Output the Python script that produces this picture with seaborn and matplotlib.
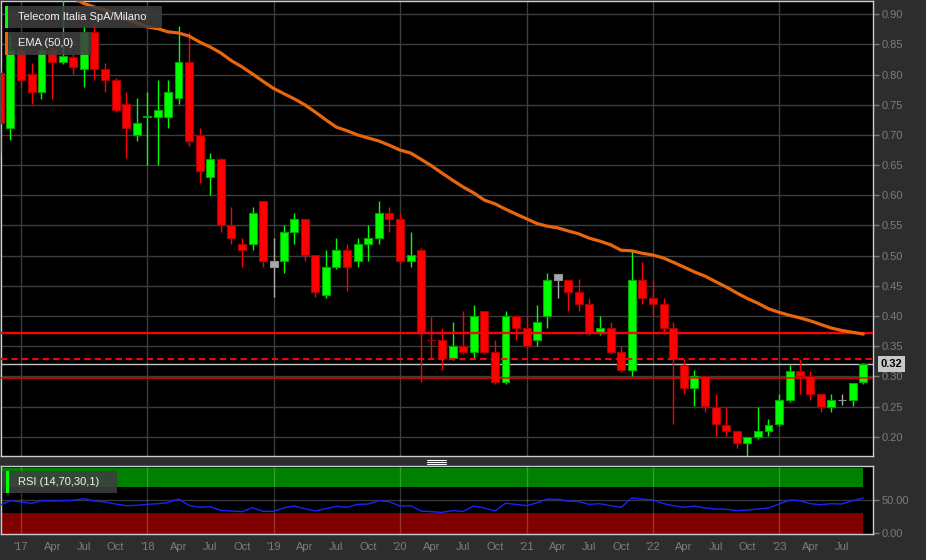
import numpy as np
import pandas as pd
import matplotlib
matplotlib.use("Agg")
import matplotlib.pyplot as plt
import matplotlib.dates as mdates
from matplotlib.patches import Rectangle
from matplotlib.lines import Line2D
import seaborn as sns

# Monthly candles, Nov 2016 .. Sep 2023
months = pd.date_range("2016-11-01", "2023-09-01", freq="MS")

opens = [0.803, 0.711, 0.841, 0.801, 0.771, 0.841, 0.821, 0.830, 0.810, 0.870,
         0.810, 0.791, 0.751, 0.700, 0.7295, 0.730, 0.730, 0.761, 0.821, 0.700,
         0.631, 0.660, 0.550, 0.520, 0.520, 0.590, 0.481, 0.491, 0.540, 0.560,
         0.501, 0.435, 0.481, 0.510, 0.491, 0.520, 0.530, 0.570, 0.560, 0.491,
         0.510, 0.3605, 0.360, 0.330, 0.350, 0.340, 0.409, 0.340, 0.290, 0.400,
         0.380, 0.360, 0.400, 0.470, 0.460, 0.440, 0.420, 0.372, 0.380, 0.340,
         0.311, 0.460, 0.430, 0.420, 0.380, 0.319, 0.281, 0.300, 0.250, 0.220,
         0.210, 0.190, 0.200, 0.210, 0.221, 0.260, 0.309, 0.300, 0.270, 0.250,
         0.260, 0.260, 0.291]
highs = [0.815, 0.868, 0.850, 0.820, 0.846, 0.846, 0.930, 0.835, 0.880, 0.886,
         0.820, 0.795, 0.771, 0.761, 0.771, 0.791, 0.791, 0.881, 0.870, 0.711,
         0.670, 0.662, 0.580, 0.530, 0.580, 0.591, 0.530, 0.550, 0.570, 0.560,
         0.501, 0.510, 0.530, 0.520, 0.530, 0.550, 0.590, 0.580, 0.570, 0.540,
         0.512, 0.399, 0.380, 0.390, 0.409, 0.419, 0.409, 0.360, 0.409, 0.400,
         0.400, 0.419, 0.471, 0.470, 0.460, 0.461, 0.430, 0.400, 0.390, 0.350,
         0.510, 0.490, 0.460, 0.430, 0.390, 0.329, 0.310, 0.300, 0.271, 0.250,
         0.210, 0.200, 0.250, 0.230, 0.270, 0.319, 0.329, 0.309, 0.270, 0.270,
         0.270, 0.289, 0.322]
lows = [0.670, 0.692, 0.780, 0.751, 0.760, 0.760, 0.818, 0.801, 0.780, 0.791,
        0.771, 0.738, 0.662, 0.690, 0.650, 0.650, 0.711, 0.751, 0.681, 0.620,
        0.600, 0.540, 0.520, 0.481, 0.510, 0.481, 0.431, 0.471, 0.520, 0.491,
        0.431, 0.430, 0.478, 0.441, 0.481, 0.491, 0.520, 0.540, 0.488, 0.481,
        0.291, 0.330, 0.311, 0.327, 0.337, 0.330, 0.337, 0.287, 0.287, 0.360,
        0.347, 0.350, 0.380, 0.430, 0.409, 0.409, 0.369, 0.369, 0.337, 0.308,
        0.300, 0.420, 0.400, 0.370, 0.221, 0.271, 0.251, 0.241, 0.201, 0.201,
        0.181, 0.168, 0.197, 0.201, 0.218, 0.257, 0.270, 0.261, 0.241, 0.241,
        0.252, 0.251, 0.288]
closes = [0.720, 0.841, 0.791, 0.771, 0.841, 0.821, 0.831, 0.812, 0.870, 0.810,
          0.791, 0.741, 0.711, 0.720, 0.7305, 0.741, 0.771, 0.821, 0.690, 0.641,
          0.660, 0.551, 0.530, 0.510, 0.570, 0.491, 0.491, 0.540, 0.560, 0.501,
          0.440, 0.481, 0.510, 0.481, 0.520, 0.530, 0.570, 0.560, 0.491, 0.501,
          0.372, 0.3595, 0.330, 0.350, 0.340, 0.400, 0.340, 0.290, 0.400, 0.380,
          0.350, 0.390, 0.460, 0.460, 0.440, 0.420, 0.372, 0.380, 0.340, 0.311,
          0.460, 0.430, 0.420, 0.380, 0.329, 0.281, 0.300, 0.251, 0.221, 0.210,
          0.190, 0.200, 0.210, 0.220, 0.260, 0.309, 0.300, 0.270, 0.250, 0.260,
          0.260, 0.289, 0.320]

# EMA(50), starting Apr 2017
ema_start = 7
ema_vals = [0.927, 0.918, 0.912, 0.907, 0.900, 0.892, 0.886, 0.879, 0.876, 0.871,
            0.869, 0.864, 0.854, 0.846, 0.836, 0.823, 0.813, 0.801, 0.789, 0.777,
            0.768, 0.760, 0.750, 0.738, 0.725, 0.713, 0.707, 0.700, 0.695, 0.690,
            0.683, 0.675, 0.670, 0.660, 0.649, 0.637, 0.625, 0.614, 0.604, 0.592,
            0.586, 0.577, 0.569, 0.561, 0.553, 0.549, 0.546, 0.541, 0.536, 0.529,
            0.524, 0.518, 0.509, 0.508, 0.504, 0.501, 0.496, 0.489, 0.481, 0.473,
            0.466, 0.457, 0.448, 0.438, 0.429, 0.421, 0.412, 0.406, 0.401, 0.397,
            0.392, 0.386, 0.380, 0.376, 0.373, 0.370]

rsi_vals = [42.5, 49, 47, 45, 49, 48.5, 49, 49.5, 52, 48.5,
            47, 44, 41.5, 42, 43.5, 44.5, 46, 51.5, 42, 39,
            40, 34.5, 33.5, 32.5, 38.5, 33, 33, 38.5, 41, 37,
            33.5, 37, 40.5, 39, 43.5, 44, 49, 47.5, 41, 41.5,
            33.5, 32.5, 31.5, 34, 33, 41, 38, 33.5, 45, 43.5,
            41.5, 46, 51.5, 51, 48.5, 47.5, 43.5, 44.5, 41.5, 39,
            53, 51.5, 50, 44.5, 41.5, 39, 41, 38, 36.5, 36,
            34, 35, 36.5, 38, 44, 50, 49, 44.5, 43, 44.5,
            44, 49, 53]

resistance = 0.372
pivot = 0.329
support = 0.297
last_price = 0.32

tick_dates = pd.date_range("2017-01-01", "2023-07-01", freq="QS")
tick_labels = ["'17", "Apr", "Jul", "Oct", "'18", "Apr", "Jul", "Oct",
               "'19", "Apr", "Jul", "Oct", "'20", "Apr", "Jul", "Oct",
               "'21", "Apr", "Jul", "Oct", "'22", "Apr", "Jul", "Oct",
               "'23", "Apr", "Jul"]
year_dates = pd.date_range("2017-01-01", "2023-01-01", freq="YS")

W, H = 926, 560
BG = "#2d2d2d"
GRID = "#3d3d3d"
TXT = "#7c7c7c"
BORDER = "#c8ccd8"

sns.set_theme(style="dark")
plt.rcParams["font.family"] = ["Liberation Sans", "DejaVu Sans"]

fig = plt.figure(figsize=(W / 100, H / 100), dpi=100, facecolor=BG)
ax = fig.add_axes([1 / W, 1 - 456 / H, 872 / W, 455 / H])
ax2 = fig.add_axes([1 / W, 1 - 534 / H, 872 / W, 68 / H])

x = mdates.date2num(months)
o = np.array(opens); hi = np.array(highs); lo = np.array(lows); c = np.array(closes)
prev = np.r_[o[0], c[:-1]]
fill = np.where(np.isclose(c, prev), "#a8a8a8", np.where(c > prev, "#00ff00", "#ff0000"))
edge = np.where(np.isclose(c, prev), "#909090", np.where(c > prev, "#00a800", "#b00000"))

# main panel
ax.set_facecolor("black")
ax.vlines(x, lo, hi, colors=fill, linewidth=1.0, zorder=3)
body_bottom = np.minimum(o, c)
body_h = np.maximum(np.abs(c - o), 0.0015)
ax.bar(x, body_h, bottom=body_bottom, width=23, color=fill, edgecolor=edge,
       linewidth=0.8, zorder=4)

ax.axhline(last_price, color="#c4c4c4", linewidth=1.0, zorder=2)
ax.axhline(resistance, color="#ff0000", linewidth=1.7, zorder=6)
ax.axhline(pivot, color="#ff0000", linewidth=1.5, dashes=(3, 2), zorder=6)
ax.axhline(support, color="#ff0000", linewidth=1.1, zorder=6)

sns.lineplot(x=x[ema_start:], y=ema_vals, ax=ax, color="#e8660c", linewidth=2.3,
             zorder=7, legend=False)

xlim = (mdates.date2num(pd.Timestamp("2016-11-04")), mdates.date2num(pd.Timestamp("2023-09-29")))
ax.set_xlim(xlim)
ax.set_ylim(0.168, 0.922)
ax.set_xticks(mdates.date2num(year_dates))
ax.tick_params(axis="x", length=0, labelbottom=False)
ax.yaxis.tick_right()
ax.set_yticks(np.round(np.arange(0.20, 0.901, 0.05), 2))
ax.set_yticklabels([f"{v:.2f}" for v in np.arange(0.20, 0.901, 0.05)])
ax.tick_params(axis="y", colors=TXT, labelcolor=TXT, labelsize=8, length=4, width=1, pad=2)
ax.grid(True, color=GRID, linewidth=1.0, zorder=0)
ax.set_axisbelow(True)
for s in ax.spines.values():
    s.set_color(BORDER)
    s.set_linewidth(1.0)

ax.annotate(f"{last_price:.2f}", xy=(1, last_price), xycoords=("axes fraction", "data"),
            xytext=(13.5, 0), textcoords="offset points", ha="center", va="center",
            fontsize=8, fontweight="bold", color="black", annotation_clip=False,
            bbox=dict(boxstyle="square,pad=0.25", fc="#c8c8c8", ec="none"), zorder=10)

# RSI panel
ax2.set_facecolor("black")
ax2.fill_between([x[0], x[-1]], 70, 98.5, color="#008000", linewidth=0, zorder=1)
ax2.fill_between([x[0], x[-1]], -1, 30, color="#800000", linewidth=0, zorder=1)
for yd in mdates.date2num(year_dates):
    ax2.axvline(yd, color="white", alpha=0.2, linewidth=1.0, zorder=2)
ax2.axhline(50, color="white", alpha=0.22, linewidth=1.0, zorder=2)
sns.lineplot(x=x, y=rsi_vals, ax=ax2, color="#1a22ff", linewidth=1.0, zorder=5, legend=False)
ax2.set_xlim(xlim)
ax2.set_ylim(-1, 101)
ax2.yaxis.tick_right()
ax2.set_yticks([0, 50])
ax2.set_yticklabels(["0.00", "50.00"])
ax2.set_xticks(mdates.date2num(tick_dates))
ax2.set_xticklabels(tick_labels)
ax2.tick_params(axis="both", colors=TXT, labelcolor=TXT, labelsize=8, length=4, width=1, pad=2)
ax2.grid(False)
ax2.set_xlabel("")
ax2.set_ylabel("")
ax.set_xlabel("")
ax.set_ylabel("")
for s in ax2.spines.values():
    s.set_color(BORDER)
    s.set_linewidth(1.0)


def label_box(x0, y0, x1, y1, mx, text, mcolor):
    fig.add_artist(Rectangle((x0 / W, 1 - y1 / H), (x1 - x0) / W, (y1 - y0) / H,
                             transform=fig.transFigure, facecolor="#3e3e3e",
                             alpha=0.88, edgecolor="none", zorder=20))
    fig.add_artist(Rectangle((mx / W, 1 - y1 / H), 3 / W, (y1 - y0) / H,
                             transform=fig.transFigure, facecolor=mcolor,
                             edgecolor="none", zorder=21))
    fig.text(18 / W, 1 - (y0 + y1) / 2 / H, text, color="#f2f2f2", fontsize=8,
             ha="left", va="center", zorder=22)


label_box(5, 6, 162, 28, 5, "Telecom Italia SpA/Milano", "#00ff00")
label_box(5, 32, 92, 55, 5, "EMA (50,0)", "#e8660c")
label_box(2, 471, 117, 493, 6, "RSI (14,70,30,1)", "#00ff00")

# splitter handle between panels
for yy in (460, 462, 464):
    fig.add_artist(Line2D([427 / W, 446 / W], [1 - yy / H, 1 - yy / H],
                          transform=fig.transFigure, color="white", linewidth=0.8))

fig.savefig("out.png", dpi=100, facecolor=BG)
